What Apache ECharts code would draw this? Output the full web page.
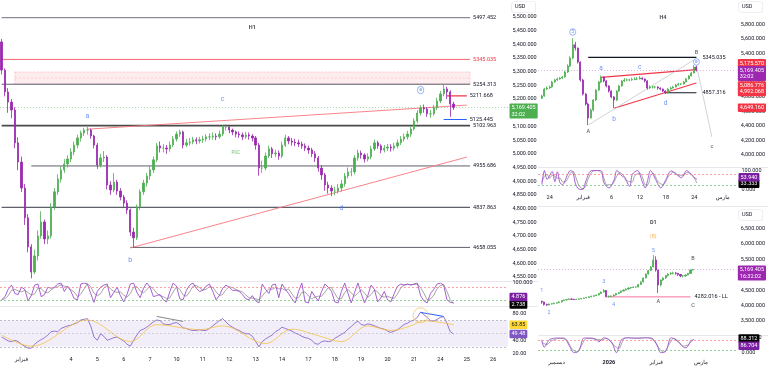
<!DOCTYPE html>
<html><head><meta charset="utf-8">
<script src="https://cdn.jsdelivr.net/npm/echarts@6/dist/echarts.min.js"></script>
<style>html,body{margin:0;padding:0;background:#fff}#c{width:768px;height:368px}</style>
</head><body><div id="c"></div><script>
const FONT = 'Roboto, "DejaVu Sans", sans-serif';
const TXT = '#131722';
const BULL = '#4caf50', BEAR = '#9c27b0';

// ---------------- H1 ----------------
const h1Count = 154;
const h1TickIdx = [6,21,29,37,45,53,61,69,77,85,93,101,109,117,125,133,141,149];
const h1TickText = ['فبراير','4','5','6','7','10','11','12','13','14','17','18','19','20','21','24','25','26'];
const h1PriceTicks = [4550,4600,4650,4700,4750,4800,4850,4900,4950,5000,5050,5100,5150,5200,5250,5300,5350,5400,5450,5500];
const h1StochTicks = [100];
const h1RsiTicks = [20,40,60,80];
const h1Open0 = 5409;
const h1Close = [5306,5226,5189,5160,5040,4970,4875,4766,4660,4568,
 4627,4700,4751,4689,4700,4806,4861,4908,4941,4963,
 4981,5007,5032,5058,5076,5087,5087,5065,5032,4959,
 4985,4988,4886,4868,4897,4864,4842,4820,4795,4714,
 4693,4806,4861,4893,4919,4941,4978,5029,5021,5021,
 5018,5032,5054,5072,5080,5032,5040,5043,5051,5047,
 5051,5054,5062,5062,5065,5062,5072,5098,5098,5087,
 5080,5072,5069,5062,5069,5065,5058,5032,4948,4948,
 4992,5018,5000,5003,4992,5032,5058,5047,5043,5040,
 5036,5029,5021,5014,5000,4985,4948,4923,4886,4875,
 4864,4864,4875,4890,4919,4934,4934,4985,5003,4996,
 4981,4989,5018,5040,5029,5014,5021,5025,5021,5029,
 5040,5054,5062,5072,5091,5120,5149,5168,5164,5146,
 5146,5168,5193,5219,5237,5226,5182,5169.405];
const h1High = [5420,5312,5240,5200,5170,5060,4990,4890,4780,4670,
 4650,4720,4790,4760,4720,4820,4875,4925,4955,4980,
 4995,5020,5045,5070,5085,5095,5098,5092,5070,5040,
 5000,5010,4995,4900,4930,4905,4875,4850,4830,4800,
 4730,4815,4870,4905,4930,4955,4990,5040,5045,5035,
 5032,5045,5065,5082,5088,5085,5055,5058,5062,5060,
 5062,5066,5072,5075,5078,5075,5085,5105,5108,5100,
 5092,5085,5082,5078,5080,5078,5072,5065,5040,4975,
 5005,5030,5025,5015,5012,5045,5070,5065,5058,5055,
 5052,5045,5038,5030,5022,5010,4992,4958,4930,4898,
 4885,4880,4890,4905,4930,4950,4948,4995,5015,5012,
 5002,5002,5030,5052,5048,5035,5032,5036,5035,5040,
 5052,5065,5074,5084,5100,5130,5160,5178,5180,5170,
 5160,5178,5205,5230,5254,5245,5232,5190];
const h1Low = [5290,5210,5150,5130,5020,4940,4860,4740,4640,4545,
 4560,4610,4690,4670,4670,4690,4795,4850,4895,4930,
 4950,4970,4995,5020,5045,5065,5070,5055,5020,4945,
 4950,4970,4870,4850,4860,4850,4830,4805,4780,4700,
 4658,4685,4795,4850,4880,4905,4930,4970,5005,5005,
 5000,5008,5025,5045,5062,5020,5025,5030,5035,5035,
 5038,5040,5045,5050,5052,5050,5055,5065,5085,5075,
 5068,5060,5058,5050,5055,5052,5045,5015,4920,4930,
 4940,4985,4985,4988,4978,4985,5025,5035,5030,5028,
 5025,5018,5010,5000,4988,4970,4935,4905,4865,4855,
 4845,4848,4855,4862,4880,4910,4918,4925,4975,4982,
 4968,4972,4980,5010,5018,5002,5005,5010,5008,5012,
 5020,5032,5045,5052,5062,5085,5112,5140,5150,5135,
 5132,5140,5160,5185,5210,5200,5135,5160];
const h1StochK = [20,35,70,90,50,45,80,70,15,40, 90,95,35,45,80,75,80,95,100,60,
 85,60,25,20,95,100,95,50,8,60, 80,90,95,30,55,80,40,10,45,95,
 100,55,30,75,100,80,35,40,45,20, 10,60,100,85,25,20,65,90,100,75,
 60,65,85,95,60,20,40,75,90,80, 65,65,60,45,25,20,40,15,5,95,
 70,50,90,95,30,95,70,50,25,5, 60,100,10,5,60,35,15,60,95,80,
 60,10,5,60,100,50,5,55,100,50, 5,40,90,70,10,30,60,20,10,50,
 85,95,90,95,90,95,100,40,15,5, 50,70,95,100,90,20,8,4.876];
const h1StochD = [20,25,40,65,70,62,58,65,55,42, 48,75,73,58,53,67,78,83,92,85,
 82,68,57,35,47,72,97,82,51,39, 49,77,88,72,60,55,58,43,32,50,
 80,83,62,53,68,85,72,52,40,35, 25,30,57,82,70,43,37,58,85,88,
 78,67,70,82,80,58,40,45,68,82, 78,70,63,57,43,30,28,25,20,38,
 57,72,70,78,72,73,65,72,48,27, 30,55,57,38,25,33,37,37,57,78,
 78,50,25,25,55,70,52,37,53,68, 52,32,45,67,57,37,33,37,30,27,
 48,77,90,93,92,93,95,78,52,20, 23,42,72,88,92,60,20,2.738];
const h1Rsi = [45,42,39,38,40,38,34,31,28,28, 34,38,41,44,48,53,54,53,58,60,
 62,63,65,67,71,72,73,62,45,40, 50,46,40,42,44,45,42,39,34,31,
 40,48,55,57,60,64,68,71,70,65, 64,64,66,67,64,59,58,56,55,55,
 56,55,55,58,62,66,70,73,68,63, 60,57,55,52,50,50,46,38,30,38,
 42,45,48,53,56,60,58,56,54,51, 49,46,44,43,40,35,34,38,39,38,
 39,43,46,49,52,57,61,66,69,64, 63,65,64,62,60,58,57,54,52,54,
 56,60,64,66,69,71,75,83,79,75, 70,69,72,75,76,66,53,49.48];
const h1RsiMa = [[0,48],[9,31],[26,71],[39,38],[47,64],[60,56],[67,62],[80,35],[88,57],[96,47],[103,38],[111,62],[118,55],[124,62],[128,70],[132,68],[137,63.85]];
const h1LevelValue = [5497.452,5345.035,5254.313,5211.668,5125.445,5102.963,4955.686,4804.6,4658.055];
const h1LevelText = ['5497.452','5345.035','5254.313','5211.668','5125.445','5102.963','4955.686','4837.863','4658.055'];
const h1LevelFrom = [0,0,0,135,134,0,9,0,39];
const h1LevelTo = [142,142,142,141,141,142,142,142,142];
const h1Zone = [4,5299,142,5255];
const h1ZoneMid = 5277;
const h1Trends = [[[26,5090],[141,5178]],[[39,4656],[141,4988]]];
const h1Waves = [[26,5138,'a'],[39,4612,'b'],[67,5200,'c'],[103,4800,'d'],[127,5233,'e']];
const h1Notes = [[76,5460,'H1'],[71,5003,'POC']];
const h1RsiDiv = [[[47,76.4],[55,68.8]],[[127,82.5],[134,76.4]]];
const h1RsiCircle = [126.5,78];
const h1Last = 5169.405, h1StochLastK = 4.876, h1StochLastD = 2.738, h1RsiLast = 49.48, h1RsiMaLast = 63.85;

// ---------------- H4 ----------------
const h4Count = 77;
const h4TickIdx = [4,17,28,39,49,60,71];
const h4TickText = ['24','فبراير','6','12','18','24','مارس'];
const h4PriceTicks = [4000,4200,4400,4600,4800,5000,5200,5400,5600,5800];
const h4StochTicks = [0,100];
const h4Open0 = 4780;
const h4Close = [4811,4908,4922,4936,5005,5033,5047,5060,5074,5143,
 5226,5337,5520,5475,5282,5033,4839,4701,4507,4618,
 4756,4894,5005,5074,5019,4950,4881,4798,4756,4881,
 4950,5019,5033,5033,5033,5040,5047,5047,5060,5047,
 5019,4922,4936,4936,4936,4922,4908,4881,4853,4908,
 4922,4936,4964,4977,4977,5005,5047,5088,5129,5212,5169.405];
const h4High = [4830,4925,4945,4955,5020,5050,5065,5075,5090,5160,
 5250,5360,5613,5560,5480,5290,5050,4850,4720,4640,
 4770,4905,5020,5095,5080,5030,4960,4890,4810,4890,
 4965,5030,5060,5055,5050,5065,5070,5075,5090,5070,
 5055,5030,4960,4955,4950,4945,4930,4915,4890,4920,
 4940,4950,4980,4995,4990,5020,5060,5100,5145,5240,5225];
const h4Low = [4770,4800,4895,4910,4925,4995,5020,5035,5045,5065,
 5130,5210,5320,5440,5260,5010,4820,4680,4410,4500,
 4600,4740,4880,4990,5000,4930,4860,4780,4645,4740,
 4870,4940,5005,5015,5015,5020,5030,5030,5040,5030,
 5000,4900,4910,4915,4915,4900,4890,4865,4840,4845,
 4900,4915,4930,4955,4960,4970,5000,5040,5085,5125,5150];
const h4StochK = [[1,26],[2,100],[3,53],[5,95],[6,40],[7,93],[8,35],[9,26],[11,80],[12,100],[13,90],[14,30],[15,5],[16,0],[17,2],[18,44],[20,98],[22,100],[24,98],[25,35],[27,8],[29,53],[30,100],[32,71],[33,62],[35,16],[36,80],[38,100],[40,35],[41,8],[42,53],[43,100],[45,53],[47,8],[49,53],[51,98],[53,80],[55,62],[57,100],[58,90],[60,62],[61,53.94]];
const h4StochD = [[1,40],[2,70],[3,80],[4,60],[5,75],[6,70],[7,60],[8,60],[9,40],[10,40],[12,85],[13,97],[14,70],[15,30],[16,10],[17,3],[18,20],[19,60],[21,98],[23,99],[25,60],[26,25],[28,25],[30,70],[31,90],[33,68],[34,45],[36,40],[37,75],[39,85],[40,60],[41,25],[42,25],[43,70],[44,85],[46,40],[48,25],[50,70],[52,92],[54,75],[56,75],[57,90],[59,80],[61,33.333]];
const h4Levels = [[19,61,5345.035,'5345.035'],[49,61,4857.316,'4857.316']];
const h4RedLines = [[[24,5069],[61,5175.57]],[[29,4641],[61,4992.068]]];
const h4GrayLines = [[[19,4410],[60,5309]],[[61,5240],[67,4245]]];
const h4Waves = [[13,5696,'5'],[24,5199,'a'],[28.5,4493,'b'],[39,5212,'c'],[49.4,4715,'d'],[60.6,5282,'e']];
const h4Marks = [[19,4314,'A'],[60.6,5406,'B'],[67.2,4106,'c']];
const h4Title = [47.5,5890,'H4'];
const h4Last = 5169.405;
const h4RedBoxes = [[5175.57,-6.5],[5086.776,9.5],[4992.068,9]];
const h4LowBox = 4649.16;
const h4StochLastK = 53.94, h4StochLastD = 33.333;

// ---------------- D1 ----------------
const d1Count = 80;
const d1TickIdx = [7,28,47,65];
const d1TickText = ['ديسمبر','2026','فبراير','مارس'];
const d1PriceTicks = [3500,4000,4500,5000,5500,6000,6500];
const d1StochTicks = [0,100];
const d1Open0 = 4140;
const d1Close = [4116,4035,4019,4051,4058,4077,4093,4116,4165,4181,
 4197,4213,4207,4197,4204,4213,4229,4246,4262,4285,
 4304,4320,4343,4392,4440,4489,4294,4294,4311,4343,
 4392,4424,4473,4505,4538,4570,4586,4602,4602,4684,
 4765,4894,5024,5138,5251,5478,5154,4667,4830,4894,
 4976,5024,5047,5057,5047,5008,4959,4959,4992,5040,5154,5169.405];
const d1High = [4160,4125,4060,4070,4080,4095,4110,4135,4180,4200,
 4215,4230,4225,4215,4220,4230,4245,4260,4280,4300,
 4320,4335,4360,4405,4455,4540,4500,4330,4330,4360,
 4405,4440,4490,4520,4555,4590,4600,4620,4625,4700,
 4785,4910,5040,5160,5280,5640,5600,5160,4850,4920,
 4995,5050,5080,5100,5090,5060,5020,4990,5010,5060,5170,5190];
const d1Low = [4060,4000,3990,4010,4035,4050,4070,4090,4105,4150,
 4170,4190,4185,4180,4185,4195,4205,4220,4240,4255,
 4270,4290,4310,4330,4375,4420,4270,4260,4280,4295,
 4330,4370,4410,4460,4490,4520,4550,4570,4580,4590,
 4670,4750,4880,5000,5120,5240,5100,4408,4620,4800,
 4860,4940,4990,5010,5000,4960,4920,4910,4940,4980,5030,5140];
const d1StochK = [[1,85],[2,38],[4,85],[7,98],[10,97],[12,50],[14,2],[16,15],[18,98],[21,98],[23,85],[24,73],[26,100],[29,73],[31,3],[33,85],[35,100],[39,97],[42,100],[45,98],[47,62],[49,2],[51,15],[53,100],[55,85],[58,38],[59,34],[61,80],[62,86.704]];
const d1StochD = [[1,70],[3,55],[5,80],[8,95],[11,85],[13,30],[15,8],[17,50],[19,95],[22,92],[25,85],[27,95],[30,50],[32,30],[34,92],[36,98],[40,95],[43,98],[46,85],[48,35],[50,5],[52,50],[54,95],[56,75],[58,45],[60,55],[62,88.312]];
const d1LL = [27,61,4282.016,'4282.016 - LL'];
const d1Waves = [[1,4473,'1'],[3.5,3759,'2'],[26.4,4774,'3'],[30,4019,'4'],[45.7,5770,'5']];
const d1Marks = [[62.2,5511,'B'],[48.1,4126,'A'],[62.2,3986,'C']];
const d1Title = [45.6,6678,'D1'];
const d1Sub = [45.6,6234,'(B)'];
const d1Last = 5169.405;
const d1StochLastK = 86.704, d1StochLastD = 88.312;

// ---------------- helpers ----------------
const fmt = (v,d) => Number(v).toLocaleString('en-US',{minimumFractionDigits:d,maximumFractionDigits:d});
function candles(open0, close, low, high, pad){
  const out = []; for (let i=0;i<pad;i++) out.push('-');
  let o = open0;
  for (let i=0;i<close.length;i++){ out.push([o, close[i], low[i], high[i]]); o = close[i]; }
  return out;
}
const cats = n => Array.from({length:n},(_,i)=>String(i));
const box = (bg, fg, off) => ({show:true, position:'end', distance:1.5, backgroundColor:bg, color:fg, fontSize:5.5, lineHeight:6.5, padding:[1,2,1,2], borderRadius:1, fontFamily:FONT, offset:[0,off||0], opacity:1});
const hidden = {color:'rgba(0,0,0,0)', width:0.5};
function textSeries(xi, yi, items, style){
  return {type:'scatter', xAxisIndex:xi, yAxisIndex:yi, symbolSize:1, silent:true, z:10,
    itemStyle:{color:'rgba(0,0,0,0)'},
    data: items.map(d => ({value:[d[0], d[1]], label:Object.assign({show:true, position:'inside', formatter:d[2], fontFamily:FONT}, style, d[3]||{})}))};
}
function lineSeries(xi, yi, data, color, width, extra){
  return Object.assign({type:'line', xAxisIndex:xi, yAxisIndex:yi, data, symbol:'none', silent:true,
    lineStyle:{color, width}, z:4}, extra||{});
}
const circled = (c) => ({borderColor:c, borderWidth:0.7, borderRadius:5, padding:[0.5,1.6,1,1.6]});

const grids = [
  {left:0, top:0, width:508, height:280},
  {left:0, top:283, width:508, height:21},
  {left:0, top:307.5, width:508, height:45.9},
  {left:538, top:0, width:199, height:165},
  {left:538, top:170.5, width:199, height:19},
  {left:538, top:215, width:199, height:119},
  {left:538, top:337.6, width:199, height:15.5}
];
function xAx(gi, n, tickIdx, tickText, show, margin){
  return {type:'category', gridIndex:gi, data:cats(n), boundaryGap:true,
    axisLine:{show:false}, axisTick:{show:false}, splitLine:{show:false},
    axisLabel:{show:show, interval:(i)=>tickIdx.indexOf(i)>=0, margin:margin||4, fontSize:5.5, color:TXT, fontFamily:FONT,
      formatter:(v,i)=>{const k=tickIdx.indexOf(i); if(k<0) return ''; const t=tickText[k]; return t==='2026'?'{b|2026}':t;},
      rich:{b:{fontWeight:'bold', fontSize:5.5, color:TXT, fontFamily:FONT}}}};
}
function yAx(gi, min, max, ticks, dec){
  return {type:'value', gridIndex:gi, position:'right', min, max, scale:true,
    axisLine:{show:false}, axisTick:{show:false}, splitLine:{show:false},
    axisLabel:{customValues:ticks, margin:4.5, fontSize:5.5, color:TXT, fontFamily:FONT, align:'left', formatter:v=>fmt(v,dec)}};
}
const xAxes = [
  xAx(0,h1Count,h1TickIdx,h1TickText,false), xAx(1,h1Count,h1TickIdx,h1TickText,false), xAx(2,h1Count,h1TickIdx,h1TickText,true,3.5),
  xAx(3,h4Count,h4TickIdx,h4TickText,false), xAx(4,h4Count,h4TickIdx,h4TickText,true,5.5),
  xAx(5,d1Count,d1TickIdx,d1TickText,false), xAx(6,d1Count,d1TickIdx,d1TickText,true,7)
];
const yAxes = [
  yAx(0,4538.9,5562.1,h1PriceTicks,3), yAx(1,0,100,h1StochTicks,3), yAx(2,20,90,h1RsiTicks,2),
  yAx(3,3857.5,6138.7,h4PriceTicks,3), yAx(4,0,100,h4StochTicks,3),
  yAx(5,3078,6938,d1PriceTicks,3), yAx(6,0,100,d1StochTicks,3)
];

const series = [];
const candleStyle = {color:BULL, color0:BEAR, borderColor:BULL, borderColor0:BEAR, borderWidth:0.8};
// ---- H1 price
series.push({type:'candlestick', xAxisIndex:0, yAxisIndex:0, data:candles(h1Open0,h1Close,h1Low,h1High,0), barWidth:1.8, itemStyle:candleStyle, z:5,
  markLine:{symbol:'none', silent:true, data:[{yAxis:h1Last, lineStyle:{color:'rgba(76,175,80,0.7)', type:[1,2], width:0.7}, label:Object.assign(box('#4caf50','#fff',3.5),{formatter:fmt(h1Last,3)+'\n32:02'})}]},
  markArea:{silent:true, itemStyle:{color:'rgba(242,54,69,0.09)', borderColor:'rgba(242,54,69,0.35)', borderWidth:0.6, borderType:'dashed'},
    data:[[{coord:[h1Zone[0],h1Zone[1]]},{coord:[h1Zone[2],h1Zone[3]]}]]}
});
series.push(lineSeries(0,0,[[h1Zone[0],h1ZoneMid],[h1Zone[2],h1ZoneMid]],'rgba(242,54,69,0.3)',0.6,{lineStyle:{color:'rgba(242,54,69,0.3)',width:0.6,type:[2,2]}}));
const lvColor = ['#5d606b','#f7525f','#5d606b','#f23645','#2962ff','#4a4a4a','#5d606b','#5d606b','#5d606b'];
const lvWidth = [0.9,0.9,1,1.4,1.2,1.8,1,1.2,1];
h1LevelValue.forEach((v,k)=>{
  series.push(lineSeries(0,0,[[h1LevelFrom[k],v],[h1LevelTo[k],v]],lvColor[k],lvWidth[k],
    {endLabel:{show:true, formatter:h1LevelText[k], fontSize:5.5, fontFamily:FONT, color:k===1?'#f23645':TXT, distance:3}}));
});
h1Trends.forEach(t=>series.push(lineSeries(0,0,t,'#f7767d',0.9)));
{
  const s = textSeries(0,0,h1Waves,{fontSize:7, color:'#4a78f0'});
  s.data[4].label = Object.assign(s.data[4].label, circled('#4a78f0'), {fontSize:5.5});
  series.push(s);
}
series.push(textSeries(0,0,[[h1Notes[0][0],h1Notes[0][1],h1Notes[0][2],{fontWeight:'bold',fontSize:5.5,color:TXT}],[h1Notes[1][0],h1Notes[1][1],h1Notes[1][2],{fontSize:4.5,color:'#4caf50'}]],{}));
// ---- H1 stoch
series.push(lineSeries(1,1,h1StochD,'#8f8f8f',0.8,{markLine:{symbol:'none',silent:true,data:[
  {yAxis:h1StochLastD, lineStyle:hidden, label:Object.assign(box('#000','#fff',1),{formatter:fmt(h1StochLastD,3)})}]}}));
series.push(lineSeries(1,1,h1StochK,'#9c4dcc',0.9,{markLine:{symbol:'none',silent:true,data:[
  {yAxis:80, lineStyle:{color:'#f77c80',type:[2,2],width:0.7}, label:{show:false}},
  {yAxis:20, lineStyle:{color:'#66bb6a',type:[2,2],width:0.7}, label:{show:false}},
  {yAxis:h1StochLastK, lineStyle:hidden, label:Object.assign(box('#7b1fa2','#fff',-6),{formatter:fmt(h1StochLastK,3)})}]}}));
// ---- H1 RSI
series.push(lineSeries(2,2,h1Rsi,'#7e57c2',0.8,{
  markArea:{silent:true, itemStyle:{color:'rgba(126,87,194,0.1)'}, data:[[{yAxis:70},{yAxis:30}]]},
  markLine:{symbol:'none',silent:true,data:[
    {yAxis:70, lineStyle:{color:'#9598a1',type:[2,2],width:0.6}, label:{show:false}},
    {yAxis:50, lineStyle:{color:'rgba(149,152,161,0.6)',type:[2,2],width:0.6}, label:{show:false}},
    {yAxis:30, lineStyle:{color:'#9598a1',type:[2,2],width:0.6}, label:{show:false}},
    {yAxis:h1RsiLast, lineStyle:hidden, label:Object.assign(box('#7e57c2','#fff',0),{formatter:fmt(h1RsiLast,2)})}]}}));
series.push(lineSeries(2,2,h1RsiMa,'#f6c244',0.8,{smooth:0.35, connectNulls:true, markLine:{symbol:'none',silent:true,data:[
  {yAxis:h1RsiMaLast, lineStyle:hidden, label:Object.assign(box('#fdd835',TXT,0),{formatter:fmt(h1RsiMaLast,2)})}]}}));
series.push(lineSeries(2,2,h1RsiDiv[0],'#555',0.7));
series.push(lineSeries(2,2,h1RsiDiv[1],'#2962ff',1));
series.push({type:'scatter', xAxisIndex:2, yAxisIndex:2, data:[h1RsiCircle], symbol:'circle', symbolSize:15, silent:true, z:6,
  itemStyle:{color:'rgba(0,0,0,0)', borderColor:'#f4b942', borderWidth:0.8}});

// ---- H4 price
const redBoxMarks = h4RedBoxes.map(b=>({yAxis:b[0], lineStyle:hidden, label:Object.assign(box('#f23645','#fff',b[1]),{formatter:fmt(b[0],3)})}));
redBoxMarks.push({yAxis:h4LowBox, lineStyle:hidden, label:Object.assign(box('#f23645','#fff',0),{formatter:fmt(h4LowBox,3)})});
series.push({type:'candlestick', xAxisIndex:3, yAxisIndex:3, data:candles(h4Open0,h4Close,h4Low,h4High,1), barWidth:1.5, itemStyle:candleStyle, z:5,
  markLine:{symbol:'none', silent:true, data:redBoxMarks.concat([{yAxis:h4Last, lineStyle:{color:'#ce93d8',type:[1,2],width:0.7}, label:Object.assign(box('#9c27b0','#fff',3.5),{formatter:fmt(h4Last,3)+'\n32:02'})}])}});
h4Levels.forEach(l=>series.push(lineSeries(3,3,[[l[0],l[2]],[l[1],l[2]]],'#131722',1.1,{endLabel:{show:true, formatter:l[3], fontSize:5.5, fontFamily:FONT, color:TXT, distance:6}})));
h4RedLines.forEach(t=>series.push(lineSeries(3,3,t,'#f23645',1.1)));
h4GrayLines.forEach(t=>series.push(lineSeries(3,3,t,'#b2b5be',0.6)));
{
  const s = textSeries(3,3,h4Waves,{fontSize:6.5, color:'#4a78f0'});
  s.data[0].label = Object.assign(s.data[0].label, circled('#4a78f0'), {fontSize:5});
  s.data[5].label = Object.assign(s.data[5].label, circled('#4a78f0'), {fontSize:5});
  series.push(s);
}
series.push(textSeries(3,3,h4Marks,{fontSize:5.5, color:TXT}));
series.push(textSeries(3,3,[h4Title],{fontSize:5.5, color:TXT, fontWeight:'bold'}));
// ---- H4 stoch
series.push(lineSeries(4,4,h4StochD,'#8f8f8f',0.8,{smooth:0.3, markLine:{symbol:'none',silent:true,data:[
  {yAxis:h4StochLastD, lineStyle:hidden, label:Object.assign(box('#000','#fff',0.5),{formatter:fmt(h4StochLastD,3)})}]}}));
series.push(lineSeries(4,4,h4StochK,'#9c4dcc',0.9,{smooth:0.3, markLine:{symbol:'none',silent:true,data:[
  {yAxis:80, lineStyle:{color:'#f77c80',type:[2,2],width:0.7}, label:{show:false}},
  {yAxis:20, lineStyle:{color:'#66bb6a',type:[2,2],width:0.7}, label:{show:false}},
  {yAxis:h4StochLastK, lineStyle:hidden, label:Object.assign(box('#7b1fa2','#fff',-2),{formatter:fmt(h4StochLastK,3)})}]}}));

// ---- D1 price
series.push({type:'candlestick', xAxisIndex:5, yAxisIndex:5, data:candles(d1Open0,d1Close,d1Low,d1High,1), barWidth:1.6, itemStyle:candleStyle, z:5,
  markLine:{symbol:'none', silent:true, data:[{yAxis:d1Last, lineStyle:{color:'#ce93d8',type:[1,2],width:0.7}, label:Object.assign(box('#9c27b0','#fff',3.5),{formatter:fmt(d1Last,3)+'\n16:32:02'})}]}});
series.push(lineSeries(5,5,[[d1LL[0],d1LL[2]],[d1LL[1],d1LL[2]]],'#f06292',0.9,{endLabel:{show:true, formatter:d1LL[3], fontSize:5.5, fontFamily:FONT, color:TXT, distance:4}}));
series.push(textSeries(5,5,d1Waves,{fontSize:5.5, color:'#4a78f0'}));
series.push(textSeries(5,5,d1Marks,{fontSize:5.5, color:TXT}));
series.push(textSeries(5,5,[d1Title],{fontSize:5.5, color:TXT, fontWeight:'bold'}));
series.push(textSeries(5,5,[d1Sub],{fontSize:5, color:'#f4a43a'}));
// ---- D1 stoch
series.push(lineSeries(6,6,d1StochD,'#8f8f8f',0.8,{smooth:0.3, markLine:{symbol:'none',silent:true,data:[
  {yAxis:d1StochLastD, lineStyle:hidden, label:Object.assign(box('#000','#fff',-1),{formatter:fmt(d1StochLastD,3)})}]}}));
series.push(lineSeries(6,6,d1StochK,'#9c4dcc',0.9,{smooth:0.3, markLine:{symbol:'none',silent:true,data:[
  {yAxis:80, lineStyle:{color:'#f77c80',type:[2,2],width:0.7}, label:{show:false}},
  {yAxis:20, lineStyle:{color:'#66bb6a',type:[2,2],width:0.7}, label:{show:false}},
  {yAxis:d1StochLastK, lineStyle:hidden, label:Object.assign(box('#7b1fa2','#fff',6),{formatter:fmt(d1StochLastK,3)})}]}}));

const sep = (x1,y1,x2,y2) => ({type:'line', silent:true, z:0, shape:{x1,y1,x2,y2}, style:{stroke:'#e6e8ee', lineWidth:1}});
const usd = (x,y) => ({type:'text', silent:true, z:20, x, y, style:{text:'USD', fontSize:5.5, fontFamily:FONT, fill:TXT, backgroundColor:'#fff', borderColor:'#e0e3eb', borderWidth:0.6, borderRadius:2, padding:[2,10,2,3]}});

const chart = echarts.init(document.getElementById('c'));
chart.setOption({
  animation:false, backgroundColor:'#fff',
  textStyle:{fontFamily:FONT},
  grid:grids, xAxis:xAxes, yAxis:yAxes, series,
  graphic:[sep(0,281.5,538,281.5), sep(0,306.5,538,306.5), sep(538,167.5,768,167.5), sep(538,206.5,768,206.5), sep(538,335.5,768,335.5),
    usd(512,2), usd(739,2), usd(739,210)]
});
</script></body></html>
